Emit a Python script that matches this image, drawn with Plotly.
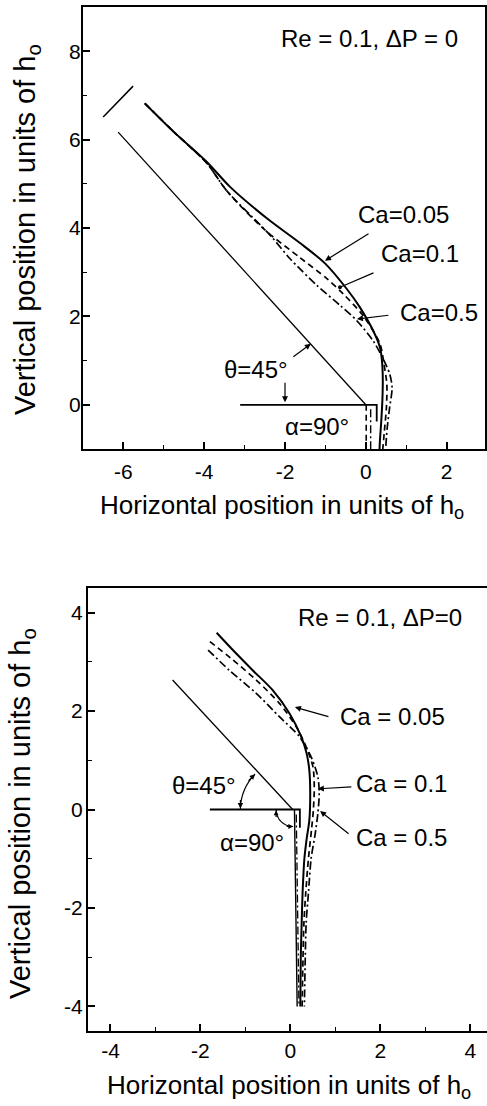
import numpy as np
import plotly.graph_objects as go

W, H = 487, 1106
FONT = "Liberation Sans, Arial, Helvetica, sans-serif"

# ---------------- Panel 1 (top): free-surface profiles ----------------
a_ca005_x = [-5.47, -4.76, -3.94, -3.36, -2.45, -1.63, -1.01, -0.47, -0.15, 0.18, 0.35, 0.40, 0.42, 0.41, 0.38, 0.35, 0.34]
a_ca005_y = [6.82, 6.18, 5.50, 4.93, 4.22, 3.66, 3.20, 2.62, 2.21, 1.68, 1.30, 1.0, 0.6, 0.1, -0.4, -0.8, -1.0]
a_ca01_x = [-5.47, -4.76, -3.94, -3.44, -2.54, -1.63, -0.97, -0.55, -0.07, 0.35, 0.45, 0.52, 0.51, 0.46, 0.42]
a_ca01_y = [6.82, 6.18, 5.47, 4.84, 3.99, 3.33, 2.86, 2.50, 2.02, 1.38, 0.92, 0.47, -0.06, -0.59, -1.0]
a_ca05_x = [-5.47, -4.76, -3.94, -3.44, -2.37, -1.88, -1.22, -0.64, -0.23, 0.18, 0.39, 0.59, 0.65, 0.59, 0.53, 0.49]
a_ca05_y = [6.82, 6.18, 5.47, 4.84, 3.84, 3.31, 2.71, 2.25, 1.91, 1.45, 1.11, 0.70, 0.39, -0.06, -0.52, -1.0]
a_wall_x = [-6.13, 0.0]
a_wall_y = [6.17, 0.0]
a_inlet_x = [-6.50, -5.76]
a_inlet_y = [6.51, 7.21]
a_ref_x = [-3.11, 0.27, 0.27]
a_ref_y = [0.0, 0.0, -0.38]
a_in1_x = [0.01, 0.01]
a_in1_y = [0.0, -1.0]
a_in2_x = [0.12, 0.12]
a_in2_y = [-0.1, -1.0]
a_xticks = [-6, -4, -2, 0, 2]
a_xtext = ["-6", "-4", "-2", "0", "2"]
a_yticks = [0, 2, 4, 6, 8]
a_ytext = ["0", "2", "4", "6", "8"]

# ---------------- Panel 2 (bottom) ----------------
b_ca005_x = [-1.64, -1.28, -0.84, -0.39, -0.02, 0.24, 0.36, 0.42, 0.44, 0.42, 0.36, 0.31, 0.27, 0.25, 0.23, 0.22]
b_ca005_y = [3.59, 3.24, 2.83, 2.42, 1.95, 1.48, 1.14, 0.80, 0.33, -0.22, -0.6, -1.0, -1.7, -2.3, -3.0, -4.0]
b_ca01_x = [-1.79, -1.32, -0.76, -0.24, 0.13, 0.35, 0.50, 0.53, 0.51, 0.47, 0.40, 0.34, 0.30, 0.28, 0.26]
b_ca01_y = [3.41, 3.07, 2.63, 2.15, 1.68, 1.27, 0.87, 0.46, -0.01, -0.4, -1.0, -1.7, -2.3, -3.0, -4.0]
b_ca05_x = [-1.83, -1.36, -0.76, -0.24, 0.20, 0.46, 0.61, 0.64, 0.61, 0.55, 0.46, 0.40, 0.35, 0.33, 0.31]
b_ca05_y = [3.24, 2.83, 2.36, 1.88, 1.48, 1.07, 0.66, 0.33, -0.08, -0.5, -1.0, -1.7, -2.3, -3.0, -4.0]
b_wall_x = [-2.62, 0.05]
b_wall_y = [2.63, 0.0]
b_ref_x = [-1.79, 0.21, 0.21]
b_ref_y = [0.0, 0.0, -0.37]
b_in1_x = [0.09, 0.15]
b_in1_y = [0.0, -4.0]
b_in2_x = [0.13, 0.19]
b_in2_y = [-0.1, -4.0]
b_xticks = [-4, -2, 0, 2, 4]
b_xtext = ["-4", "-2", "0", "2", "4"]
b_yticks = [-4, -2, 0, 2, 4]
b_ytext = ["-4", "-2", "0", "2", "4"]

DASH = "6px,4px"
DASHDOT = "8px,3px,2px,3px"

fig = go.Figure()


def line(x, y, xa, ya, dash="solid", width=2.0, spline=True):
    fig.add_trace(go.Scatter(
        x=x, y=y, xaxis=xa, yaxis=ya, mode="lines",
        line=dict(color="black", width=width, dash=dash,
                  shape="spline" if spline else "linear", smoothing=0.8),
        showlegend=False, hoverinfo="skip"))


# top panel
line(a_wall_x, a_wall_y, "x", "y", width=1.3, spline=False)
line(a_inlet_x, a_inlet_y, "x", "y", width=1.5, spline=False)
line(a_ref_x, a_ref_y, "x", "y", width=1.8, spline=False)
line(a_in1_x, a_in1_y, "x", "y", dash=DASH, width=1.6, spline=False)
line(a_in2_x, a_in2_y, "x", "y", dash=DASHDOT, width=1.4, spline=False)
line(a_ca005_x, a_ca005_y, "x", "y", width=2.0)
line(a_ca01_x, a_ca01_y, "x", "y", dash=DASH, width=1.7)
line(a_ca05_x, a_ca05_y, "x", "y", dash=DASHDOT, width=1.7)

# bottom panel
line(b_wall_x, b_wall_y, "x2", "y2", width=1.3, spline=False)
line(b_ref_x, b_ref_y, "x2", "y2", width=1.8, spline=False)
line(b_in1_x, b_in1_y, "x2", "y2", width=1.4, spline=False)
line(b_in2_x, b_in2_y, "x2", "y2", dash=DASHDOT, width=1.3, spline=False)
line(b_ca005_x, b_ca005_y, "x2", "y2", width=2.0)
line(b_ca01_x, b_ca01_y, "x2", "y2", dash=DASH, width=1.7)
line(b_ca05_x, b_ca05_y, "x2", "y2", dash=DASHDOT, width=1.7)

tickfont = dict(family=FONT, size=21, color="black")
axis_common = dict(showgrid=False, zeroline=False, showline=True, linecolor="black",
                   linewidth=2, ticks="inside", ticklen=7, tickwidth=1.5, tickcolor="black",
                   tickfont=tickfont, tickmode="array",
                   minor=dict(ticks="inside", ticklen=4, tickwidth=1.2, tickcolor="black",
                              tickmode="linear", dtick=1, tick0=0))

fig.update_layout(
    width=W, height=H, margin=dict(l=0, r=0, t=0, b=0),
    paper_bgcolor="white", plot_bgcolor="white", showlegend=False,
    xaxis=dict(domain=[83 / W, 485 / W], range=[-7, 2.95], anchor="y", mirror=True,
               tickvals=a_xticks, ticktext=a_xtext, ticklabelstandoff=3, **axis_common),
    yaxis=dict(domain=[1 - 449 / H, 1 - 7 / H], range=[-1, 9], anchor="x", mirror=True,
               tickvals=a_yticks, ticktext=a_ytext, ticklabelstandoff=-4, **axis_common),
    xaxis2=dict(domain=[88 / W, 1.0], range=[-4.5, 4.37], anchor="y2", mirror=True,
                tickvals=b_xticks, ticktext=b_xtext, ticklabelstandoff=0, **axis_common),
    yaxis2=dict(domain=[1 - 1031 / H, 1 - 588 / H], range=[-4.5, 4.5], anchor="x2", mirror=False,
                tickvals=b_yticks, ticktext=b_ytext, ticklabelstandoff=-1, **axis_common),
)

ann = []


def text(x, y, s, xr, yr, size=24):
    ann.append(dict(x=x, y=y, xref=xr, yref=yr, text=s, showarrow=False,
                    font=dict(family=FONT, size=size, color="black"),
                    xanchor="center", yanchor="middle"))


def arrow(x, y, ax, ay, xr, yr, head=2, size=1.0, width=1.2):
    ann.append(dict(x=x, y=y, ax=ax, ay=ay, xref=xr, yref=yr, text="", showarrow=True,
                    arrowhead=head, arrowsize=size, arrowwidth=width, arrowcolor="black",
                    standoff=0, startstandoff=0))


# top panel labels
text(0.10, 8.28, "Re = 0.1, \u0394P = 0", "x", "y")
text(0.94, 4.31, "Ca=0.05", "x", "y")
text(1.34, 3.43, "Ca=0.1", "x", "y")
text(1.81, 2.09, "Ca=0.5", "x", "y")
text(-2.72, 0.79, "\u03b8=45\u00b0", "x", "y")
text(-1.21, -0.50, "\u03b1=90\u00b0", "x", "y")
arrow(-1.01, 3.26, 45, -28, "x", "y")
arrow(-0.64, 2.66, 35, -15, "x", "y", head=6, size=0.8)
arrow(-0.22, 1.94, 33, -4, "x", "y")
arrow(-1.36, 1.38, -19, 14, "x", "y")
arrow(-2.0, 0.06, 0, -21, "x", "y")

# bottom panel labels
text(2.0, 3.91, "Re = 0.1, \u0394P=0", "x2", "y2")
text(2.26, 1.88, "Ca = 0.05", "x2", "y2")
text(2.46, 0.52, "Ca = 0.1", "x2", "y2")
text(2.48, -0.56, "Ca = 0.5", "x2", "y2")
text(-1.92, 0.48, "\u03b8=45\u00b0", "x2", "y2")
text(-0.85, -0.68, "\u03b1=90\u00b0", "x2", "y2")
arrow(0.10, 2.08, 35, 10, "x2", "y2")
arrow(0.61, 0.42, 35, -2, "x2", "y2")
arrow(0.66, -0.03, 30, 24, "x2", "y2")

# angle arcs (bottom panel), built around the corner point
cx, cy = 0.0, 0.0
sx, sy = 1.0 / 44.98, 1.0 / 49.22   # data units per pixel
r1 = 50
th = np.linspace(np.pi * 0.75, np.pi, 30)
p1 = "M " + " L ".join(f"{cx + r1 * sx * np.cos(t):.4f},{cy + r1 * sy * np.sin(t):.4f}" for t in th)
r2 = 17
th2 = np.linspace(np.pi, np.pi * 1.5, 30)
p2 = "M " + " L ".join(f"{0.06 + r2 * sx * np.cos(t):.4f},{cy + r2 * sy * np.sin(t):.4f}" for t in th2)
fig.add_shape(type="path", path=p1, xref="x2", yref="y2", line=dict(color="black", width=1.2))
fig.add_shape(type="path", path=p2, xref="x2", yref="y2", line=dict(color="black", width=1.2))
arrow(-r1 * sx, 0.02, 0, -10, "x2", "y2", size=0.9)
arrow(r1 * sx * np.cos(np.pi * 0.75), r1 * sy * np.sin(np.pi * 0.75), -8, 8, "x2", "y2", size=0.9)
arrow(0.06 - r2 * sx, -0.02, 0, 8, "x2", "y2", size=0.8)
arrow(0.06, -r2 * sy, -8, 0, "x2", "y2", size=0.8)


# axis titles
def ptext(px, py, s, size, angle=0):
    ann.append(dict(x=px / W, y=1 - py / H, xref="paper", yref="paper", text=s, showarrow=False,
                    textangle=angle, font=dict(family=FONT, size=size, color="black"),
                    xanchor="center", yanchor="middle"))


ptext(282, 507, "Horizontal position in units of h<sub>o</sub>", 26)
ptext(27, 230, "Vertical position in units of h<sub>o</sub>", 29, -90)
ptext(289, 1086, "Horizontal position in units of h<sub>o</sub>", 26)
ptext(22, 814, "Vertical position in units of h<sub>o</sub>", 29, -90)

fig.update_layout(annotations=ann)
fig.write_html("out.html", config={"displayModeBar": False},
               post_script="document.body.style.margin='0';document.body.style.padding='0';"
                           "document.documentElement.style.overflow='hidden';")
